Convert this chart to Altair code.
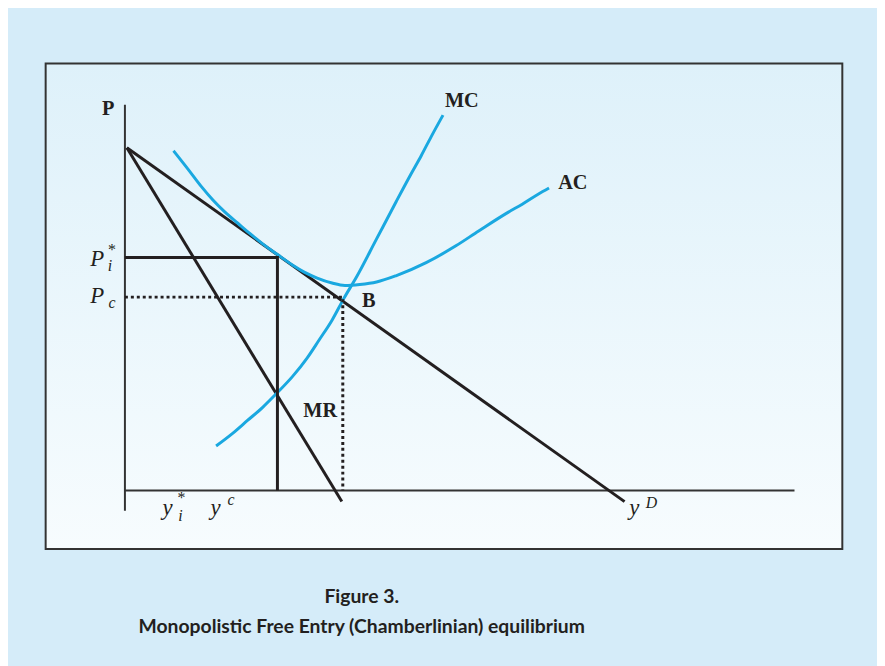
import altair as alt
import pandas as pd

# ---- data (diagram units: quantity q, price P) ----
Q_DEMAND = [0.4, 103.2]
P_DEMAND = [99.6, -3.2]
Q_MR = [0.4, 44.8]
P_MR = [99.6, -3.2]
Q_MC = [18.83, 22.31, 25.38, 28.45, 31.52, 34.59, 37.66, 40.11, 42.78, 45.23, 47.89, 51.98, 56.07, 59.15, 61.20, 63.24, 65.70]
P_MC = [12.95, 16.70, 20.44, 24.18, 28.50, 33.10, 38.57, 43.75, 49.51, 55.84, 62.18, 73.11, 84.05, 92.11, 97.29, 102.76, 109.07]
Q_AC = [10.03, 13.10, 15.76, 18.22, 20.67, 23.33, 25.79, 28.45, 31.52, 34.59, 37.04, 39.71, 42.78, 45.44, 48.51, 51.98, 56.08, 62.22, 68.36, 73.07, 79.21, 82.07, 85.35, 87.60]
P_AC = [98.73, 93.26, 88.37, 84.34, 80.89, 77.66, 74.70, 71.68, 68.57, 65.54, 63.47, 61.75, 60.30, 59.59, 59.87, 60.59, 62.46, 66.21, 71.10, 75.42, 80.89, 83.19, 86.07, 87.88]
Q_STAR, P_STAR = 31.5, 67.7
Q_COMP, P_COMP = 45.0, 56.2
AXIS_Q = [0.0, 138.3]
AXIS_P = [-5.85, 112.1]

BOLD_TEXT = ["P", "B", "MR", "MC", "AC"]
BOLD_Q = [-3.47, 50.35, 40.32, 69.59, 92.51]
BOLD_P = [109.1, 53.25, 21.30, 111.4, 87.51]
ITAL_TEXT = ["P", "P", "y", "y", "y"]
ITAL_Q = [-5.73, -5.73, 8.80, 18.73, 105.2]
ITAL_P = [65.34, 54.40, -7.05, -7.05, -7.05]
SMALL_TEXT = ["i", "c", "i", "c", "D"]
SMALL_Q = [-3.07, -2.66, 11.46, 21.89, 108.77]
SMALL_P = [63.9, 52.97, -8.9, -4.32, -5.18]
STAR_Q = [-2.66, 11.66]
STAR_P = [68.3, -3.7]

TITLE_1 = "Figure 3."
TITLE_2 = "Monopolistic Free Entry (Chamberlinian) equilibrium"

W, H = 877, 658
XS = alt.Scale(domain=[-24.15, 155.34], nice=False, zero=False)
YS = alt.Scale(domain=[-50.09, 139.32], nice=False, zero=False)
INK = "#231f20"
CYAN = "#1aa8e0"


def path(qs, ps):
    return pd.DataFrame({"q": qs, "p": ps, "i": list(range(len(qs)))})


def line(df, color, width, dash=None, interp="linear"):
    kw = dict(color=color, strokeWidth=width, interpolate=interp, clip=False, strokeCap="butt")
    if dash:
        kw["strokeDash"] = dash
    return alt.Chart(df).mark_line(**kw).encode(
        x=alt.X("q:Q", scale=XS, axis=None),
        y=alt.Y("p:Q", scale=YS, axis=None),
        order=alt.Order("i:Q"),
    )


def texts(txt, qs, ps, size, style="normal", weight="normal", family="Liberation Serif"):
    df = pd.DataFrame({"t": txt, "q": qs, "p": ps})
    return alt.Chart(df).mark_text(
        font=family, fontSize=size, fontStyle=style, fontWeight=weight,
        color=INK, align="center", baseline="alphabetic",
    ).encode(
        x=alt.X("q:Q", scale=XS, axis=None),
        y=alt.Y("p:Q", scale=YS, axis=None),
        text="t:N",
    )


one = pd.DataFrame({"a": [0]})
box = alt.Chart(one).mark_rect(
    color=alt.Gradient(
        gradient="linear",
        stops=[alt.GradientStop(color="#def1fa", offset=0),
               alt.GradientStop(color="#f7fcfe", offset=1)],
        x1=0, x2=0, y1=0, y2=1,
    ),
    stroke="#333333", strokeWidth=2,
).encode(x=alt.value(38), x2=alt.value(842), y=alt.value(53), y2=alt.value(543))

axis_x = line(path([0.0, AXIS_Q[1]], [0.0, 0.0]), "#333333", 2)
axis_y = line(path([0.0, 0.0], AXIS_P), "#333333", 2)

demand = line(path(Q_DEMAND, P_DEMAND), INK, 3)
mr = line(path(Q_MR, P_MR), INK, 3)
mc = line(path(Q_MC, P_MC), CYAN, 3, interp="monotone")
ac = line(path(Q_AC, P_AC), CYAN, 3, interp="monotone")
star = line(path([0.0, Q_STAR, Q_STAR], [P_STAR, P_STAR, 0.0]), INK, 3)
comp = line(path([0.0, Q_COMP, Q_COMP], [P_COMP, P_COMP, 0.0]), INK, 3, dash=[3, 3])

t_bold = texts(BOLD_TEXT, BOLD_Q, BOLD_P, 20.5, weight="bold")
t_ital = texts(ITAL_TEXT, ITAL_Q, ITAL_P, 23, style="italic")
t_small = texts(SMALL_TEXT, SMALL_Q, SMALL_P, 16, style="italic")
t_star = texts(["*", "*"], STAR_Q, STAR_P, 16)

cap1 = alt.Chart(one).mark_text(
    text=TITLE_1, font="Lato", fontWeight="bold", fontSize=19.5, color=INK,
    align="center", baseline="alphabetic",
).encode(x=alt.value(357), y=alt.value(597))
cap2 = alt.Chart(one).mark_text(
    text=TITLE_2, font="Lato", fontWeight="bold", fontSize=19.5, color=INK,
    align="center", baseline="alphabetic",
).encode(x=alt.value(357), y=alt.value(628))

chart = alt.layer(
    box, axis_x, axis_y, demand, mr, ac, mc, star, comp,
    t_bold, t_ital, t_small, t_star, cap1, cap2,
).properties(
    width=W, height=H, autosize=alt.AutoSizeParams(type="none"), padding=0,
    background="#d5ecf9",
).configure_view(stroke=None)

chart.save("out.html", embed_options={"renderer": "svg", "actions": False})
